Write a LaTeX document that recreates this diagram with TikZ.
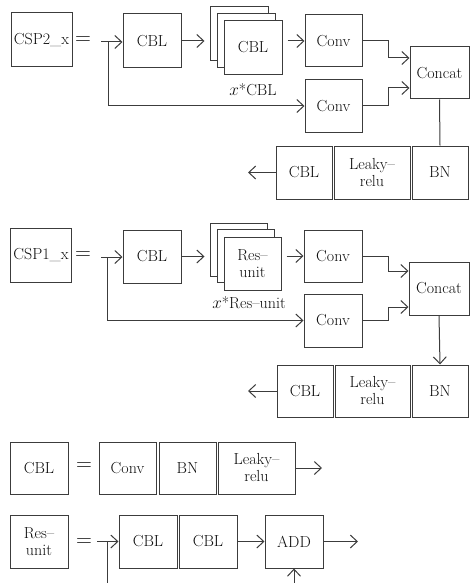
\documentclass[tikz,border=0pt]{standalone}
\usetikzlibrary{arrows.meta}
\definecolor{lc}{RGB}{60,60,60}
\definecolor{tc}{RGB}{15,15,15}
\begin{document}
\begin{tikzpicture}[x=1pt,y=-1pt,
  bx/.style={draw=lc, fill=white, line width=1pt, inner sep=0pt, align=center,
             font=\fontsize{16}{17}\selectfont, text=tc},
  sz/.style 2 args={minimum width=#1, minimum height=#2},
  ln/.style={draw=lc, line width=1pt},
  arr/.style={ln, -{Straight Barb[length=7pt,width=13pt]}},
  eqs/.style={font=\fontsize{22}{22}\selectfont, text=tc, inner sep=0pt},
  lbl/.style={font=\fontsize{16}{17}\selectfont, text=tc, inner sep=0pt}]
\useasboundingbox (0,0) rectangle (470,583);
\clip (0,0) rectangle (470,583);

% ---------- CSP2_x ----------
\node[bx,sz={61}{54}] (csp2) at (41.5,40) {CSP2\_x};
\node[eqs] (eq1) at (83,41) {=};
\node[bx,sz={58}{54}] (cblA) at (152,41) {CBL};
\node[bx,sz={58}{54}] (stA3) at (239,34) {};
\node[bx,sz={58}{54}] (stA2) at (246,41) {};
\node[bx,sz={58}{54}] (stA1) at (253,47.5) {CBL};
\node[lbl] (labA) at (253,90) {$x$*CBL};
\node[bx,sz={57}{52}] (convA1) at (333.5,41) {Conv};
\node[bx,sz={57}{52}] (convA2) at (333.5,106) {Conv};
\node[bx,sz={59}{52}] (catA) at (439.5,73) {Concat};
\node[bx,sz={56}{53}] (bnA) at (440,172.5) {BN};
\node[bx,sz={76}{53}] (lkA) at (372,172.5) {Leaky--\\relu};
\node[bx,sz={56}{53}] (cbA) at (304,172.5) {CBL};
\coordinate (inA) at (101,42);
\coordinate (spA) at (108,42);
\coordinate (outA) at (248,172.5);
\coordinate (kA1) at (388,58);
\coordinate (kA2) at (388,88);
\draw[arr] (inA) -- (inA -| cblA.west);
\draw[arr] (spA) |- (convA2.west);
\draw[arr,shorten >=5pt] (cblA.east) -- (cblA.east -| stA3.west);
\draw[arr,shorten <=5pt] (stA1.east |- convA1.west) -- (convA1.west);
\draw[arr] (convA1.east) -| (kA1) -- (kA1 -| catA.west);
\draw[arr] (convA2.east) -| (kA2) -- (kA2 -| catA.west);
\draw[ln] (catA.south) -- (bnA.north);
\draw[arr] (cbA.west) -- (outA);

% ---------- CSP1_x ----------
\node[bx,sz={61}{54}] (csp1) at (41,255) {CSP1\_x};
\node[eqs] (eq2) at (83,256) {=};
\node[bx,sz={58}{53}] (cblB) at (152,256.5) {CBL};
\node[bx,sz={57}{53}] (stB3) at (238.5,249.5) {};
\node[bx,sz={57}{53}] (stB2) at (245.5,256) {};
\node[bx,sz={57}{53}] (stB1) at (252.5,263.5) {Res--\\unit};
\node[lbl] (labB) at (249,303) {$x$*Res--unit};
\node[bx,sz={58}{52}] (convB1) at (333,256) {Conv};
\node[bx,sz={58}{53}] (convB2) at (333,320.5) {Conv};
\node[bx,sz={60}{53}] (catB) at (439,288.5) {Concat};
\node[bx,sz={56}{52}] (bnB) at (440,391) {BN};
\node[bx,sz={75}{52}] (lkB) at (372.5,391) {Leaky--\\relu};
\node[bx,sz={56}{52}] (cbB) at (305,391) {CBL};
\coordinate (inB) at (101,257);
\coordinate (spB) at (107,257);
\coordinate (outB) at (248,391);
\coordinate (kB1) at (388,271);
\coordinate (kB2) at (388,307);
\draw[arr] (inB) -- (inB -| cblB.west);
\draw[arr] (spB) |- (convB2.west);
\draw[arr,shorten >=5pt] (cblB.east) -- (cblB.east -| stB3.west);
\draw[arr,shorten <=5pt] (stB1.east |- convB1.west) -- (convB1.west);
\draw[arr] (convB1.east) -| (kB1) -- (kB1 -| catB.west);
\draw[arr] (convB2.east) -| (kB2) -- (kB2 -| catB.west);
\draw[arr] (catB.south) -- (bnB.north);
\draw[arr] (cbB.west) -- (outB);

% ---------- CBL ----------
\node[bx,sz={58}{52}] (cblC) at (39,468) {CBL};
\node[eqs] (eq3) at (84,467) {=};
\node[bx,sz={57}{52}] (convC) at (127.5,468) {Conv};
\node[bx,sz={57}{52}] (bnC) at (187.5,468) {BN};
\node[bx,sz={77}{52}] (lkC) at (256.5,468) {Leaky--\\relu};
\coordinate (outC) at (322,468);
\draw[arr] (lkC.east) -- (outC);

% ---------- Res-unit ----------
\node[bx,sz={58}{53}] (resD) at (39,541.5) {Res--\\unit};
\node[eqs] (eq4) at (84,543) {=};
\node[bx,sz={58}{53}] (cblD1) at (148,541.5) {CBL};
\node[bx,sz={58}{53}] (cblD2) at (208,541.5) {CBL};
\node[bx,sz={58}{53}] (addD) at (294,541.5) {ADD};
\coordinate (inD) at (97,541.5);
\coordinate (spD) at (107,541.5);
\coordinate (lowD) at (107,600);
\coordinate (outD) at (358,541.5);
\draw[arr] (inD) -- (inD -| cblD1.west);
\draw[arr] (spD) -- (lowD) -| (addD.south);
\draw[arr] (cblD2.east) -- (addD.west);
\draw[arr] (addD.east) -- (outD);
\end{tikzpicture}
\end{document}
